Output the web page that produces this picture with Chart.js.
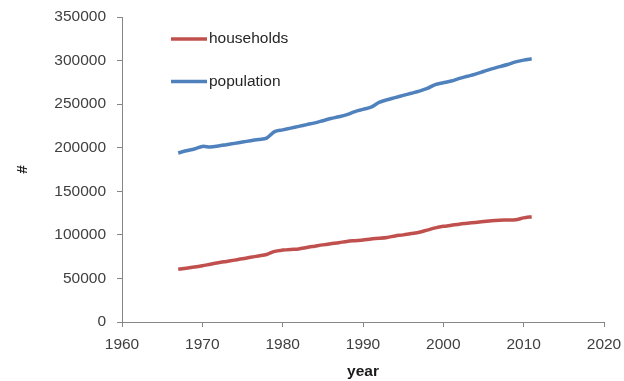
<!DOCTYPE html>
<html>
<head>
<meta charset="utf-8">
<script src="https://cdn.jsdelivr.net/npm/chart.js@4/dist/chart.umd.min.js"></script>
<style>
  html, body { margin: 0; padding: 0; background: #ffffff; }
  #wrap { width: 624px; height: 381px; position: relative; }
</style>
</head>
<body>
<div id="wrap"><canvas id="c"></canvas></div>
<script>
// Years covered by both series
const years = [
  1967, 1968, 1969, 1970, 1971, 1972, 1973, 1974, 1975, 1976,
  1977, 1978, 1979, 1980, 1981, 1982, 1983, 1984, 1985, 1986,
  1987, 1988, 1989, 1990, 1991, 1992, 1993, 1994, 1995, 1996,
  1997, 1998, 1999, 2000, 2001, 2002, 2003, 2004, 2005, 2006,
  2007, 2008, 2009, 2010, 2011
];

const households = [
  60500, 61800, 63000, 64500, 66300, 68000, 69500, 71000, 72500, 74200,
  75800, 77500, 81000, 82500, 83300, 83800, 85500, 87000, 88500, 89800,
  91000, 92500, 93300, 94000, 95300, 96000, 97000, 98800, 100000, 101500,
  103000, 105500, 108000, 109800, 111000, 112300, 113300, 114300, 115300, 116300,
  116800, 117000, 117300, 119500, 120800
];

const population = [
  194000, 196500, 198500, 201500, 200800, 202000, 203500, 205000, 206500, 208000,
  209500, 211000, 218500, 220500, 222500, 224500, 226500, 228500, 231000, 233500,
  235500, 238000, 241500, 244000, 246500, 252000, 255000, 257500, 260000, 262500,
  265000, 268000, 272500, 274500, 276500, 279500, 282000, 284500, 287500, 290500,
  293000, 295500, 298500, 300500, 302000
];

// Axis ranges and tick spacing
const xRange = [1960, 2020];
const xStep = 10;
const yRange = [0, 350000];
const yStep = 50000;

const seriesNames = ['households', 'population'];
const seriesColors = ['#C0504D', '#4F81BD'];

const toPoints = vals => vals.map((v, i) => ({ x: years[i], y: v }));

const FONT = '"Liberation Sans", Arial, sans-serif';
const AXIS_GREY = '#868686';

// Legend drawn as a vertical list inside the plot area
const insideLegend = {
  id: 'insideLegend',
  afterDraw(chart) {
    const ctx = chart.ctx;
    const area = chart.chartArea;
    const x0 = area.left + 49;
    const rows = [area.top + 22, area.top + 64.5];
    ctx.save();
    ctx.font = '15.5px ' + FONT;
    ctx.textBaseline = 'middle';
    ctx.textAlign = 'left';
    chart.data.datasets.forEach((ds, i) => {
      const y = rows[i];
      ctx.strokeStyle = ds.borderColor;
      ctx.lineWidth = 3.5;
      ctx.lineCap = 'butt';
      ctx.beginPath();
      ctx.moveTo(x0, y);
      ctx.lineTo(x0 + 36, y);
      ctx.stroke();
      ctx.fillStyle = '#262626';
      ctx.fillText(ds.label, x0 + 38, y);
    });
    ctx.restore();
  }
};

new Chart(document.getElementById('c'), {
  type: 'line',
  data: {
    datasets: [
      {
        label: seriesNames[0],
        data: toPoints(households),
        borderColor: seriesColors[0],
        backgroundColor: seriesColors[0],
        borderWidth: 3.5,
        pointRadius: 0,
        tension: 0.3,
        fill: false
      },
      {
        label: seriesNames[1],
        data: toPoints(population),
        borderColor: seriesColors[1],
        backgroundColor: seriesColors[1],
        borderWidth: 3.5,
        pointRadius: 0,
        tension: 0.3,
        fill: false
      }
    ]
  },
  options: {
    responsive: true,
    maintainAspectRatio: false,
    animation: false,
    devicePixelRatio: 1,
    layout: { padding: { top: 17, right: 20, left: 0, bottom: 0 } },
    plugins: {
      legend: { display: false },
      tooltip: { enabled: false }
    },
    scales: {
      x: {
        type: 'linear',
        min: xRange[0],
        max: xRange[1],
        afterFit(scale) { scale.height = 59; scale.paddingRight = 0; },
        ticks: {
          stepSize: xStep,
          color: '#404040',
          padding: 8,
          font: { family: FONT, size: 15.5 },
          callback: v => String(v)
        },
        grid: {
          display: true,
          drawOnChartArea: false,
          drawTicks: true,
          tickLength: 5,
          color: AXIS_GREY
        },
        border: { display: true, color: AXIS_GREY, width: 1 },
        title: {
          display: true,
          text: 'year',
          color: '#1a1a1a',
          font: { family: FONT, size: 15.5, weight: 'bold' },
          padding: { top: 0, bottom: 0 }
        }
      },
      y: {
        type: 'linear',
        min: yRange[0],
        max: yRange[1],
        afterFit(scale) { scale.width = 122; scale.paddingTop = 0; },
        ticks: {
          stepSize: yStep,
          color: '#404040',
          padding: 11,
          font: { family: FONT, size: 15.5 },
          callback: v => String(v)
        },
        grid: {
          display: true,
          drawOnChartArea: false,
          drawTicks: true,
          tickLength: 5,
          color: AXIS_GREY
        },
        border: { display: true, color: AXIS_GREY, width: 1 },
        title: {
          display: true,
          text: '#',
          color: '#1a1a1a',
          font: { family: FONT, size: 15.5, weight: 'bold' },
          padding: { top: 13, bottom: 0 }
        }
      }
    }
  },
  plugins: [insideLegend]
});
</script>
</body>
</html>
